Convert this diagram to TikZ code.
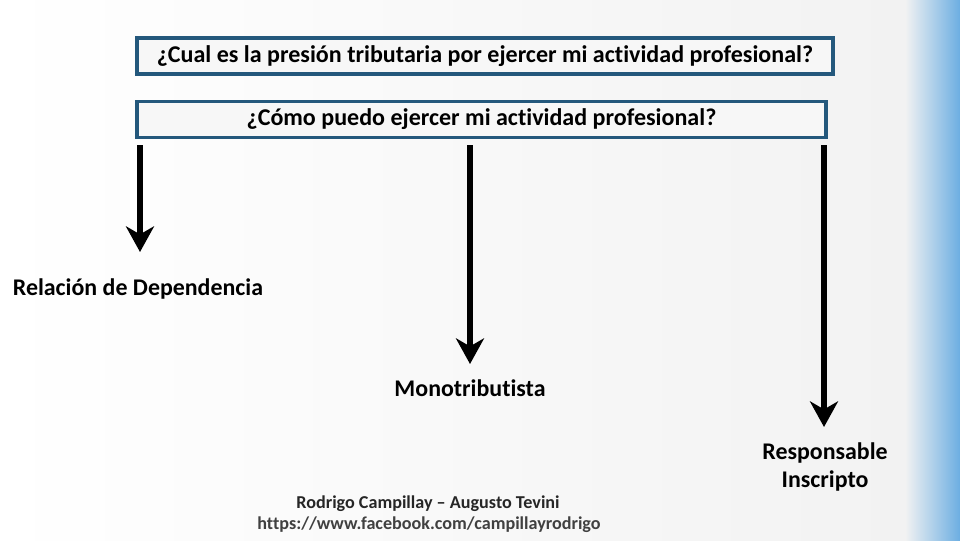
\documentclass[tikz,border=0pt]{standalone}
\usepackage{fontspec}
\setmainfont{Carlito}[Ligatures=NoCommon]
\usetikzlibrary{positioning, arrows.meta}

\definecolor{boxline}{RGB}{36,88,124}
\definecolor{sidebg}{RGB}{108,174,226}
\definecolor{pagebg}{RGB}{242,242,242}

\begin{document}
\begin{tikzpicture}[
    x=0.025cm, y=-0.025cm,
    question/.style={rectangle, draw=boxline, line width=2.2pt, fill=white!40!pagebg,
                     minimum height=0.9cm, font=\fontsize{17.1}{20}\selectfont\bfseries},
    option/.style={font=\fontsize{17}{20}\selectfont\bfseries, align=center},
    credit/.style={font=\fontsize{12.9}{15}\selectfont\bfseries, text=black!85},
    arrow/.style={-{Stealth[length=6.4mm, width=7mm, inset=2mm]}, line width=4.6pt}
]

    % Background
    \useasboundingbox (0,0) rectangle (960,540);
    \shade[left color=white, right color=pagebg] (0,0) rectangle (905,540);
    \shade[left color=pagebg, right color=sidebg] (905,0) rectangle (960,540);

    % Questions
    \node[question, minimum width=696*0.025cm] (q1) at (485,56)
        {¿Cual es la presión tributaria por ejercer mi actividad profesional?};
    \node[question, minimum width=689*0.025cm] (q2) at (481.5,119.5)
        {¿Cómo puedo ejercer mi actividad profesional?};

    % Options
    \node[option] (dep) at (138,289) {Relación de Dependencia};
    \node[option] (mono) at (470,388) {Monotributista};
    \node[option] (resp) at (825,467) {Responsable\\Inscripto};

    % Arrow ends
    \coordinate (s1) at (140,145);
    \coordinate (s2) at (470,145);
    \coordinate (s3) at (824,145);
    \coordinate (e1) at (140,252);
    \coordinate (e2) at (470,364);
    \coordinate (e3) at (824,427);

    % Arrows
    \draw[arrow] (s1) -- (e1);
    \draw[arrow] (s2) -- (e2);
    \draw[arrow] (s3) -- (e3);

    % Credits
    \node[credit] (authors) at (428,504) {Rodrigo Campillay – Augusto Tevini};
    \node[credit, text=black!75] (link) at (429,525) {https://www.facebook.com/campillayrodrigo};

\end{tikzpicture}
\end{document}
